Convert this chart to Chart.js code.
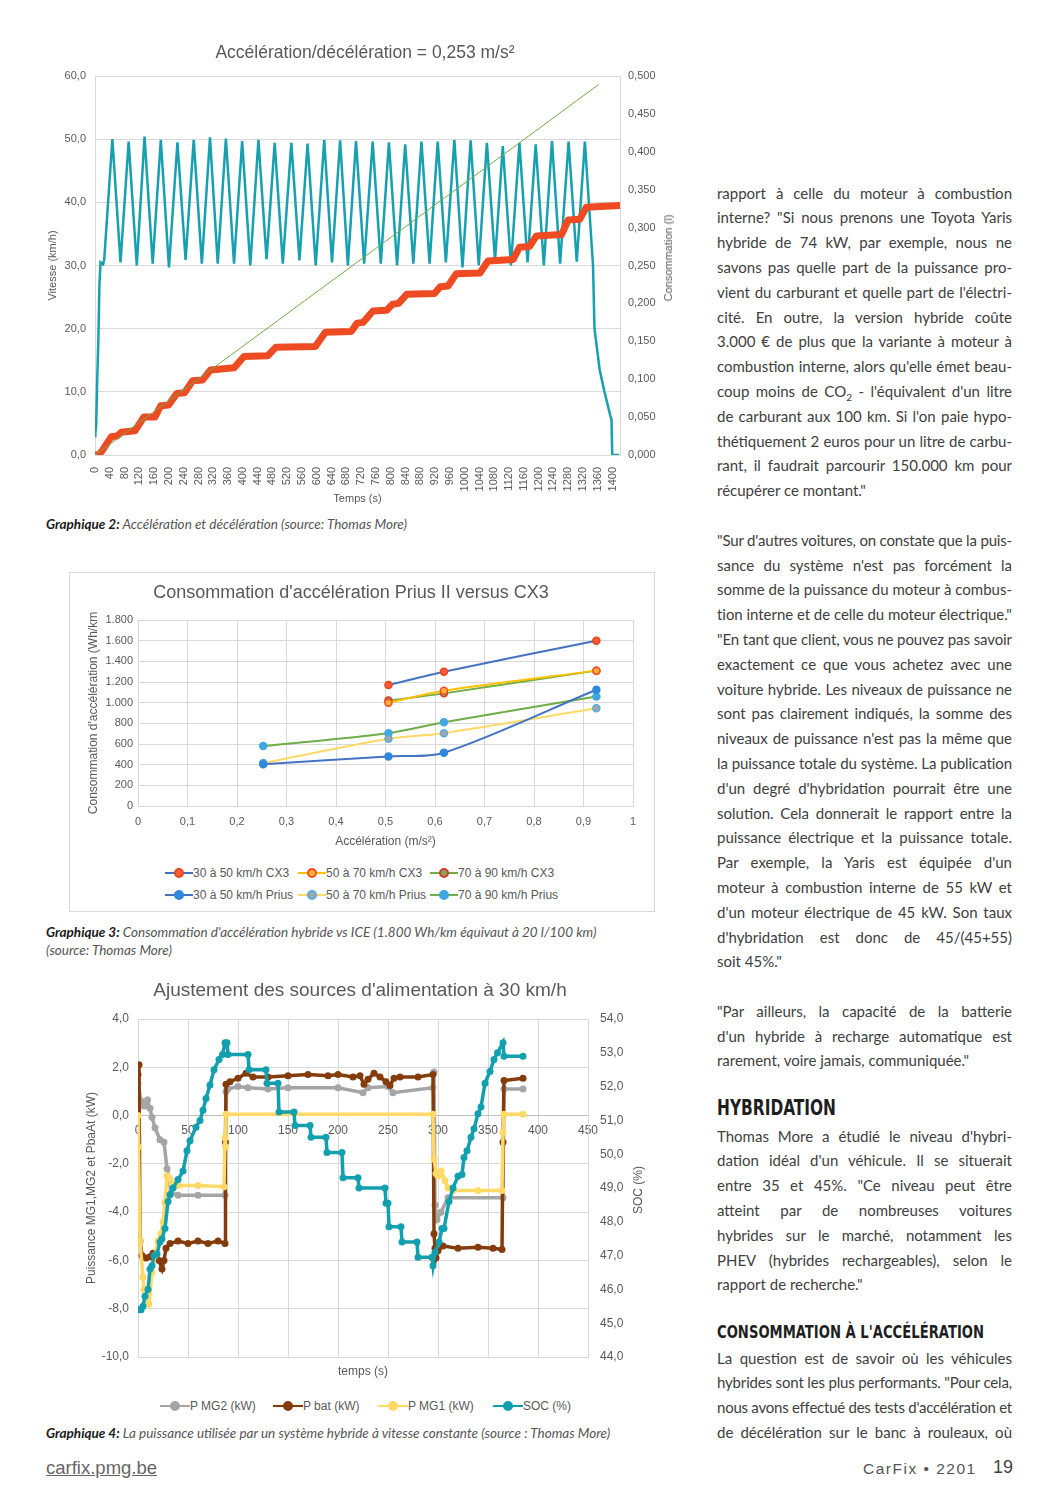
<!DOCTYPE html>
<html lang="fr">
<head>
<meta charset="utf-8">
<title>CarFix 2201 - p. 19</title>
<script src="https://cdn.jsdelivr.net/npm/chart.js@4.4.1/dist/chart.umd.min.js"></script>
<style>
html, body { margin: 0; padding: 0; background: #fff; }
body { width: 1058px; height: 1496px; position: relative; overflow: hidden; font-family: 'Lato', sans-serif; color: #404040; }
.box { position: absolute; }
.box canvas { display: block; }
.frame { position: absolute; left: 69px; top: 572px; width: 586px; height: 340px; border: 1px solid #d9d9d9; box-sizing: border-box; }
.cap { position: absolute; left: 46px; font-size: 13.5px; font-style: italic; font-weight: 400; color: #555; line-height: 18px; }
.cap b { font-weight: 700; color: #1a1a1a; }
.col { position: absolute; left: 717px; width: 295px; font-size: 15px; }
.col div { height: 24.8px; line-height: 24.8px; white-space: nowrap; }
.h1 { position: absolute; left: 717px; white-space: nowrap; transform-origin: 0 50%; font-family: 'Liberation Sans Narrow', 'DejaVu Sans Condensed', 'Lato', sans-serif; font-weight: 700; color: #1e1e1e; }
.legend { position: absolute; font-family: 'Liberation Sans', Arial, sans-serif; font-size: 12px; color: #595959; }
.legend .it { position: absolute; white-space: nowrap; line-height: 14px; }
.legend .sym { display: inline-block; position: relative; width: 28px; height: 14px; vertical-align: top; }
.legend .sym .ln { position: absolute; left: 0; right: 0; top: 6px; height: 2px; }
.legend .sym .dt { position: absolute; top: 2px; width: 6px; height: 6px; border-radius: 50%; border: 2px solid; }
.vtitle { position: absolute; white-space: nowrap; font-family: 'Liberation Sans', Arial, sans-serif; color: #595959; transform: translate(-50%, -50%) rotate(-90deg); }
.foot { position: absolute; font-family: 'Liberation Sans', Arial, sans-serif; color: #555; white-space: nowrap; }
</style>
</head>
<body>

<div class="box" style="left:40px; top:35px;"><canvas id="accel" width="650" height="475"></canvas></div>
<div class="vtitle" style="left:668px; top:258px; font-size:11px;">Consommation (l)</div>
<div class="cap" style="top:515px;"><b>Graphique 2:</b> Accélération et décélération (source: Thomas More)</div>

<div class="frame"></div>
<div class="box" style="left:69px; top:572px;"><canvas id="conso" width="586" height="280"></canvas></div>
<div class="legend" id="consoLegend" style="left:165px; top:866px;"></div>
<div class="cap" style="top:923px;"><b>Graphique 3:</b> Consommation d'accélération hybride vs ICE (1.800 Wh/km équivaut à 20 l/100 km)<br>(source: Thomas More)</div>

<div class="box" style="left:40px; top:970px;"><canvas id="power" width="640" height="425"></canvas></div>
<div class="vtitle" style="left:638px; top:1190px; font-size:12px;">SOC (%)</div>
<div class="legend" id="powerLegend" style="left:160px; top:1399px;"></div>
<div class="cap" style="top:1424px;"><b>Graphique 4:</b> La puissance utilisée par un système hybride à vitesse constante (source : Thomas More)</div>

<div class="col" style="top:180.6px;">
  <div>rapport à celle du moteur à combustion</div>
  <div>interne? "Si nous prenons une Toyota Yaris</div>
  <div>hybride de 74 kW, par exemple, nous ne</div>
  <div>savons pas quelle part de la puissance pro-</div>
  <div>vient du carburant et quelle part de l'électri-</div>
  <div>cité. En outre, la version hybride coûte</div>
  <div>3.000 € de plus que la variante à moteur à</div>
  <div>combustion interne, alors qu'elle émet beau-</div>
  <div>coup moins de CO<sub style="font-size:10px; line-height:0;">2</sub> - l'équivalent d'un litre</div>
  <div>de carburant aux 100 km. Si l'on paie hypo-</div>
  <div>thétiquement 2 euros pour un litre de carbu-</div>
  <div>rant, il faudrait parcourir 150.000 km pour</div>
  <div class="e">récupérer ce montant."</div>
  <div class="e"></div>
  <div>"Sur d'autres voitures, on constate que la puis-</div>
  <div>sance du système n'est pas forcément la</div>
  <div>somme de la puissance du moteur à combus-</div>
  <div class="e">tion interne et de celle du moteur électrique."</div>
  <div>"En tant que client, vous ne pouvez pas savoir</div>
  <div>exactement ce que vous achetez avec une</div>
  <div>voiture hybride. Les niveaux de puissance ne</div>
  <div>sont pas clairement indiqués, la somme des</div>
  <div>niveaux de puissance n'est pas la même que</div>
  <div>la puissance totale du système. La publication</div>
  <div>d'un degré d'hybridation pourrait être une</div>
  <div>solution. Cela donnerait le rapport entre la</div>
  <div>puissance électrique et la puissance totale.</div>
  <div>Par exemple, la Yaris est équipée d'un</div>
  <div>moteur à combustion interne de 55 kW et</div>
  <div>d'un moteur électrique de 45 kW. Son taux</div>
  <div>d'hybridation est donc de 45/(45+55)</div>
  <div class="e">soit 45%."</div>
  <div class="e"></div>
  <div>"Par ailleurs, la capacité de la batterie</div>
  <div>d'un hybride à recharge automatique est</div>
  <div class="e">rarement, voire jamais, communiquée."</div>
</div>

<div class="h1" id="h1a" style="top:1095px; font-size:22px;" data-w="119">HYBRIDATION</div>
<div class="col" style="top:1123.6px;">
  <div>Thomas More a étudié le niveau d'hybri-</div>
  <div>dation idéal d'un véhicule. Il se situerait</div>
  <div>entre 35 et 45%. "Ce niveau peut être</div>
  <div>atteint par de nombreuses voitures</div>
  <div>hybrides sur le marché, notamment les</div>
  <div>PHEV (hybrides rechargeables), selon le</div>
  <div class="e">rapport de recherche."</div>
</div>

<div class="h1" id="h1b" style="top:1322px; font-size:17px;" data-w="267">CONSOMMATION À L'ACCÉLÉRATION</div>
<div class="col" style="top:1345.6px;">
  <div>La question est de savoir où les véhicules</div>
  <div>hybrides sont les plus performants. "Pour cela,</div>
  <div>nous avons effectué des tests d'accélération et</div>
  <div>de décélération sur le banc à rouleaux, où</div>
</div>

<div class="foot" style="left:46px; top:1457px; font-size:18.5px; color:#666; text-decoration:underline;">carfix.pmg.be</div>
<div class="foot" style="left:863px; top:1460px; font-size:15.5px; letter-spacing:1.5px;">CarFix • 2201</div>
<div class="foot" style="left:993px; top:1457px; font-size:18px; color:#444;">19</div>

<script>
// Graphique 2 - vitesse (km/h) et consommation (l) en fonction du temps (s)
const speedTimes = [0, 1, 3, 6, 9, 12, 15, 22, 25,
    47, 69, 91, 113, 134, 156, 178, 200, 223, 245, 267, 289, 311, 332, 354, 376, 398, 420,
    442, 464, 486, 508, 531, 553, 575, 597, 620, 641, 663, 684, 706, 728, 751, 773, 795, 817,
    839, 861, 883, 905, 927, 949, 972, 994, 1016, 1038, 1060, 1082, 1103, 1125, 1148, 1170,
    1192, 1214, 1236, 1258, 1281, 1303, 1325,
    1347, 1351, 1365, 1378, 1394, 1397, 1399, 1418];
const speedValues = [3.0, 3.5, 4.5, 12.0, 18.0, 27.0, 30.5, 30.2, 31.0,
    50.0, 30.5, 49.6, 30.0, 50.4, 30.3, 49.9, 29.7, 49.5, 30.9, 49.9, 30.3, 50.3, 30.3, 50.1, 30.3, 49.7, 30.0,
    49.9, 31.0, 49.4, 30.3, 49.4, 30.8, 49.3, 30.0, 49.9, 30.5, 49.8, 30.0, 49.7, 30.3, 49.6, 30.3, 49.5, 30.0,
    49.2, 30.3, 49.6, 30.3, 49.6, 30.5, 49.9, 29.7, 49.8, 30.0, 49.4, 30.8, 48.9, 30.0, 49.4, 30.5,
    49.2, 30.0, 49.7, 30.3, 49.6, 30.6, 49.6,
    30.0, 20.0, 13.5, 10.0, 6.2, 5.6, 0.0, 0.0];

const fuelTimes = [0, 12, 20, 44, 60, 71, 108, 132, 162, 178, 199, 221, 242, 264, 291, 312, 376, 403,
    467, 489, 596, 623, 693, 709, 725, 752, 789, 805, 821, 843, 918, 934, 955, 977, 1041, 1063,
    1131, 1148, 1175, 1194, 1262, 1280, 1311, 1329, 1419];
const fuelValues = [0, 0.001, 0.006, 0.024, 0.025, 0.030, 0.032, 0.050, 0.050, 0.065, 0.066, 0.081, 0.082, 0.098, 0.099, 0.112, 0.115, 0.130,
    0.131, 0.142, 0.143, 0.162, 0.163, 0.174, 0.175, 0.190, 0.191, 0.199, 0.200, 0.212, 0.213, 0.222, 0.223, 0.239, 0.240, 0.256,
    0.258, 0.274, 0.275, 0.289, 0.291, 0.310, 0.311, 0.327, 0.329];

const trendTimes = [0, 1363];
const trendValues = [0, 0.489];

// Graphique 3 - consommation d'accélération (Wh/km)
const accelCX3 = [0.506, 0.618, 0.926];
const accelPrius = [0.253, 0.506, 0.618, 0.926];
const cx3From30 = [1170, 1300, 1600];
const cx3From50 = [1000, 1115, 1310];
const cx3From70 = [1020, 1090, 1310];
const priusFrom30 = [405, 480, 515, 1125];
const priusFrom50 = [415, 650, 705, 945];
const priusFrom70 = [580, 705, 810, 1060];

// Graphique 4 - puissances (kW) et SOC (%) en fonction du temps (s)
const mg2Times = [0, 3, 6, 9.5, 12, 14, 17, 22, 26, 29, 31, 33, 40, 60, 87, 88, 90, 100, 110, 130, 150, 200,
    225, 230, 250, 255, 295, 296, 297, 299, 303, 310, 365, 366, 385];
const mg2Values = [1.35, 0.6, 0.4, 0.65, 0.3, -0.07, -0.5, -1.0, -1.1, -2.2, -2.6, -3.2, -3.3, -3.3, -3.3, 1.0, 1.1, 1.2, 1.15, 1.1, 1.15, 1.15,
    0.95, 1.15, 1.2, 0.95, 1.15, 1.8, -3.7, -4.3, -4.0, -3.4, -3.4, 1.1, 1.1];

const batTimes = [0, 1, 2, 4, 8, 12, 15, 18, 21, 24, 26, 28, 32, 40, 50, 60, 70, 80, 87, 87.5, 88, 92, 100, 108, 115,
    130, 150, 170, 190, 200, 215, 222, 226, 230, 236, 242, 248, 252, 256, 262, 280, 295,
    296, 297, 298, 300, 305, 320, 340, 355, 364, 365, 366, 385];
const batValues = [1.7, 2.1, -5.2, -5.8, -5.9, -5.85, -5.7, -5.9, -6.0, -6.35, -6.0, -5.5, -5.3, -5.2, -5.3, -5.2, -5.3, -5.2, -5.3, -1.1, 1.3, 1.4, 1.55, 1.75, 1.6,
    1.6, 1.65, 1.7, 1.65, 1.7, 1.6, 1.65, 1.3, 1.5, 1.75, 1.6, 1.4, 1.25, 1.55, 1.6, 1.6, 1.7,
    -4.9, -5.5, -5.9, -5.6, -5.4, -5.5, -5.45, -5.5, -5.55, -1.1, 1.45, 1.55];

const mg1Times = [0, 0.5, 2, 5, 6, 8, 11, 14, 17, 20, 23, 25, 27, 29, 31, 34, 40, 60, 86, 87, 87.5, 88,
    295, 296, 298, 300, 303, 307, 310, 315, 340, 364, 365, 366, 385];
const mg1Values = [0.0, -1.3, -5.2, -6.7, -7.2, -7.5, -7.8, -6.5, -5.8, -5.2, -4.9, -4.4, -3.6, -2.5, -2.6, -2.8, -2.9, -2.9, -2.95, -0.9, -1.3, 0.05,
    0.05, -1.8, -2.4, -2.5, -2.3, -2.7, -3.0, -3.1, -3.1, -3.1, -0.7, 0.05, 0.05];

const socTimes = [0, 3, 5, 7, 10, 12, 14, 16, 19, 22, 24, 27, 30, 32, 35, 40, 45, 49, 52, 58, 62, 65, 68, 72, 76, 81, 84.5, 87, 89,
    90, 110, 111, 128, 129, 140, 141, 156, 157, 172, 173, 188, 189, 204, 205, 220, 221, 247, 248, 250, 251, 263, 264, 279, 280, 294,
    295, 297, 301, 304, 306, 311, 315, 320, 324, 326, 329, 333, 336, 340, 343, 347, 352, 356, 359.5, 365, 366, 385];
const socValues = [45.4, 45.4, 45.5, 45.8, 46.0, 46.6, 46.7, 47.0, 47.05, 47.4, 47.5, 47.8, 48.6, 48.8, 49.0, 49.25, 49.5, 50.1, 50.4, 50.8, 51.0, 51.3, 51.65, 52.05, 52.5, 52.8, 52.95, 53.3, 53.3,
    52.95, 52.95, 52.5, 52.5, 52.1, 52.1, 51.25, 51.25, 50.85, 50.85, 50.5, 50.5, 50.05, 50.05, 49.3, 49.3, 49.0, 49.0, 48.55, 48.55, 47.85, 47.85, 47.4, 47.4, 46.95, 46.95,
    46.7, 47.1, 47.4, 47.8, 47.8, 48.6, 49.0, 49.35, 49.4, 49.9, 50.1, 50.5, 50.75, 51.2, 51.4, 52.1, 52.45, 52.8, 53.0, 53.3, 52.9, 52.9];

Chart.defaults.font.family = "'Liberation Sans', Arial, sans-serif";
Chart.defaults.color = '#595959';

const GRID = '#d9d9d9';
const COL_WIDTH = 295;
const comma = (v, d) => Number(v).toFixed(d).replace('.', ',');
const thousands = (v) => v >= 1000 ? Math.floor(v / 1000) + '.' + String(v % 1000).padStart(3, '0') : String(v);
const toPoints = (xs, ys) => xs.map((x, i) => ({ x, y: ys[i] }));

function renderAccelChart() {
    const ctx = document.getElementById('accel').getContext('2d');
    return new Chart(ctx, {
        type: 'line',
        data: {
            datasets: [
                { label: 'Tendance', data: toPoints(trendTimes, trendValues), yAxisID: 'yFuel', borderColor: '#70ad47', borderWidth: 1, pointRadius: 0, order: 0 },
                { label: 'Consommation (l)', data: toPoints(fuelTimes, fuelValues), yAxisID: 'yFuel', borderColor: '#ef4b23', borderWidth: 7, pointRadius: 0, borderJoinStyle: 'round', borderCapStyle: 'round', order: 1 },
                { label: 'Vitesse (km/h)', data: toPoints(speedTimes, speedValues), yAxisID: 'y', borderColor: '#17a0b0', borderWidth: 2.5, pointRadius: 0, order: 2 }
            ]
        },
        options: {
            responsive: false,
            animation: false,
            plugins: {
                legend: { display: false },
                tooltip: { enabled: false },
                title: { display: true, text: 'Accélération/décélération = 0,253 m/s²', font: { size: 17.5, weight: 'normal' }, color: '#595959', padding: { top: 8, bottom: 12 } }
            },
            scales: {
                x: {
                    type: 'linear', min: 0, max: 1420,
                    ticks: { stepSize: 40, includeBounds: false, autoSkip: false, minRotation: 90, maxRotation: 90, font: { size: 11 }, padding: 4, callback: (v) => String(v) },
                    grid: { display: false },
                    border: { color: GRID },
                    title: { display: true, text: 'Temps (s)', font: { size: 11 }, padding: { top: 0, bottom: 4 } },
                    afterFit(scale) { scale.height = 55; }
                },
                y: {
                    position: 'left', min: 0, max: 60,
                    ticks: { stepSize: 10, padding: 9, font: { size: 11 }, callback: (v) => comma(v, 1) },
                    grid: { color: GRID, drawTicks: false },
                    border: { color: GRID },
                    title: { display: true, text: 'Vitesse (km/h)', font: { size: 11 }, padding: { top: 6, bottom: 0 } },
                    afterFit(scale) { scale.width = 55; }
                },
                yFuel: {
                    position: 'right', min: 0, max: 0.5,
                    ticks: { stepSize: 0.05, padding: 8, font: { size: 11 }, callback: (v) => comma(v, 3) },
                    grid: { display: false, drawTicks: false },
                    border: { color: GRID },
                    afterFit(scale) { scale.width = 70; }
                }
            }
        }
    });
}

const consoSeries = [
    { label: '30 à 50 km/h CX3', xs: accelCX3, ys: cx3From30, line: '#4472c4', fill: '#ff5a3a', edge: '#e8461b' },
    { label: '50 à 70 km/h CX3', xs: accelCX3, ys: cx3From50, line: '#ffc000', fill: '#f7b13c', edge: '#ff4a1f' },
    { label: '70 à 90 km/h CX3', xs: accelCX3, ys: cx3From70, line: '#70ad47', fill: '#8ca35f', edge: '#d93a2a' },
    { label: '30 à 50 km/h Prius', xs: accelPrius, ys: priusFrom30, line: '#4472c4', fill: '#2f88dc', edge: '#2f88dc' },
    { label: '50 à 70 km/h Prius', xs: accelPrius, ys: priusFrom50, line: '#ffd966', fill: '#a5a5a5', edge: '#52aee2' },
    { label: '70 à 90 km/h Prius', xs: accelPrius, ys: priusFrom70, line: '#70ad47', fill: '#3fa7e2', edge: '#3fa7e2' }
];

function renderConsoChart() {
    const ctx = document.getElementById('conso').getContext('2d');
    return new Chart(ctx, {
        type: 'line',
        data: {
            datasets: consoSeries.map((s) => ({
                label: s.label,
                data: toPoints(s.xs, s.ys),
                borderColor: s.line,
                borderWidth: 2,
                tension: 0.3,
                pointRadius: 3.5,
                pointBorderWidth: 1.5,
                pointBackgroundColor: s.fill,
                pointBorderColor: s.edge
            }))
        },
        options: {
            responsive: false,
            animation: false,
            layout: { padding: { right: 22 } },
            plugins: {
                legend: { display: false },
                tooltip: { enabled: false },
                title: { display: true, text: "Consommation d'accélération Prius II versus CX3", font: { size: 18, weight: 'normal' }, color: '#595959', padding: { top: 10, bottom: 16.4 } }
            },
            scales: {
                x: {
                    type: 'linear', min: 0, max: 1,
                    ticks: { stepSize: 0.1, padding: 9, font: { size: 11 }, callback: (v) => (v === 0 || v === 1) ? String(v) : comma(v, 1) },
                    grid: { color: GRID, drawTicks: false },
                    border: { color: GRID },
                    title: { display: true, text: 'Accélération (m/s²)', font: { size: 12 }, padding: { top: 0, bottom: 3 } },
                    afterFit(scale) { scale.height = 46; }
                },
                y: {
                    min: 0, max: 1800,
                    ticks: { stepSize: 200, padding: 5, font: { size: 11 }, callback: (v) => thousands(v) },
                    grid: { color: GRID, drawTicks: false },
                    border: { color: GRID },
                    title: { display: true, text: "Consommation d'accélération (Wh/km", font: { size: 12 }, padding: { top: 17, bottom: 0 } },
                    afterFit(scale) { scale.width = 69; }
                }
            }
        }
    });
}

const powerSeries = [
    { label: 'P MG2 (kW)', xs: mg2Times, ys: mg2Values, color: '#a5a5a5', axis: 'y', order: 3 },
    { label: 'P bat (kW)', xs: batTimes, ys: batValues, color: '#843c0c', axis: 'y', order: 2 },
    { label: 'P MG1 (kW)', xs: mg1Times, ys: mg1Values, color: '#ffd966', axis: 'y', order: 1 },
    { label: 'SOC (%)', xs: socTimes, ys: socValues, color: '#129fae', axis: 'ySoc', order: 0 }
];

function renderPowerChart() {
    const ctx = document.getElementById('power').getContext('2d');
    return new Chart(ctx, {
        type: 'line',
        data: {
            datasets: powerSeries.map((s) => ({
                label: s.label,
                data: toPoints(s.xs, s.ys),
                yAxisID: s.axis,
                xAxisID: 'x',
                order: s.order,
                borderColor: s.color,
                backgroundColor: s.color,
                borderWidth: 3.5,
                pointRadius: 3.5,
                pointBorderWidth: 0,
                pointBackgroundColor: s.color
            }))
        },
        options: {
            responsive: false,
            animation: false,
            plugins: {
                legend: { display: false },
                tooltip: { enabled: false },
                title: { display: true, text: "Ajustement des sources d'alimentation à 30 km/h", font: { size: 19, weight: 'normal' }, color: '#595959', padding: { top: 9, bottom: 17.2 } }
            },
            scales: {
                x: {
                    type: 'linear', min: 0, max: 450, position: { y: 0 },
                    ticks: { stepSize: 50, padding: 8, font: { size: 12 }, callback: (v) => String(v) },
                    grid: { color: GRID, drawTicks: false },
                    border: { color: '#bfbfbf' }
                },
                xTitle: {
                    type: 'linear', min: 0, max: 450, position: 'bottom',
                    ticks: { display: false },
                    grid: { display: false, drawTicks: false },
                    border: { display: false },
                    title: { display: true, text: 'temps (s)', font: { size: 12 }, padding: { top: 0, bottom: 16 } },
                    afterFit(scale) { scale.height = 38; }
                },
                y: {
                    position: 'left', min: -10, max: 4,
                    ticks: { stepSize: 2, padding: 9, font: { size: 12 }, callback: (v) => comma(v, 1) },
                    grid: { color: GRID, drawTicks: false },
                    border: { color: GRID },
                    title: { display: true, text: 'Puissance MG1,MG2 et PbaAt (kW)', font: { size: 12 }, padding: { top: 44, bottom: 0 } },
                    afterFit(scale) { scale.width = 98; }
                },
                ySoc: {
                    position: 'right', min: 44, max: 54,
                    ticks: { stepSize: 1, padding: 12, font: { size: 12 }, callback: (v) => comma(v, 1) },
                    grid: { display: false, drawTicks: false },
                    border: { color: GRID },
                    afterFit(scale) { scale.width = 92; }
                }
            }
        }
    });
}

function buildLegend(containerId, items, positions, symWidth) {
    const box = document.getElementById(containerId);
    items.forEach((item, i) => {
        const el = document.createElement('div');
        el.className = 'it';
        el.style.left = positions[i][0] + 'px';
        el.style.top = positions[i][1] + 'px';
        const sym = document.createElement('span');
        sym.className = 'sym';
        sym.style.width = symWidth + 'px';
        sym.innerHTML = `<span class="ln" style="background:${item.line}"></span>` +
            `<span class="dt" style="left:${symWidth / 2 - 5}px;background:${item.fill};border-color:${item.edge}"></span>`;
        el.appendChild(sym);
        el.appendChild(document.createTextNode(item.label));
        box.appendChild(el);
    });
}

// justify each printed line to the column width (the line breaks follow the printed page)
function justifyColumns() {
    document.querySelectorAll('.col div').forEach((line) => {
        if (!line.textContent.trim()) return;
        line.innerHTML = `<span>${line.innerHTML}</span>`;
        const span = line.firstChild;
        let natural = span.getBoundingClientRect().width;
        if (natural > COL_WIDTH) {
            const chars = line.textContent.length;
            span.style.letterSpacing = ((COL_WIDTH - natural) / chars) + 'px';
            natural = span.getBoundingClientRect().width;
        }
        const gaps = (line.textContent.match(/ /g) || []).length;
        if (!line.classList.contains('e') && gaps) {
            span.style.wordSpacing = ((COL_WIDTH - natural) / gaps) + 'px';
        }
    });
    document.querySelectorAll('.h1').forEach((h) => {
        h.style.display = 'inline-block';
        const w = h.getBoundingClientRect().width;
        h.style.transform = `scaleX(${Number(h.dataset.w) / w})`;
    });
}

renderAccelChart();
renderConsoChart();
renderPowerChart();

buildLegend('consoLegend', consoSeries, [[0, 0], [133, 0], [265, 0], [0, 22], [133, 22], [265, 22]], 28);
buildLegend('powerLegend',
    powerSeries.map((s) => ({ label: s.label, line: s.color, fill: s.color, edge: s.color })),
    [[0, 0], [113, 0], [218, 0], [333, 0]], 30);
justifyColumns();
</script>
</body>
</html>
